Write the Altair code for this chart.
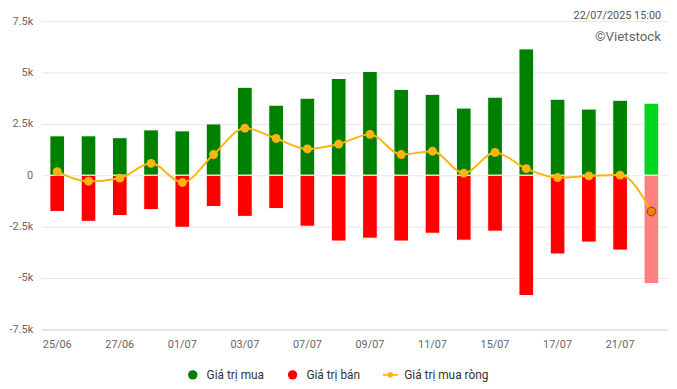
import altair as alt
import pandas as pd

dates = ["25/06", "26/06", "27/06", "30/06", "01/07", "02/07", "03/07", "04/07",
         "07/07", "08/07", "09/07", "10/07", "11/07", "14/07", "15/07", "16/07",
         "17/07", "18/07", "21/07", "22/07"]
buy = [1920, 1920, 1830, 2210, 2160, 2500, 4280, 3410, 3750, 4710,
       5050, 4180, 3940, 3270, 3800, 6150, 3700, 3220, 3650, 3510]
sell = [1760, 2240, 1960, 1670, 2530, 1520, 2000, 1620, 2480, 3200,
        3060, 3200, 2820, 3160, 2720, 5850, 3830, 3250, 3640, 5270]
net = [180, -290, -140, 580, -350, 1010, 2290, 1790, 1280, 1520,
       1990, 1010, 1170, 100, 1110, 320, -110, -30, 10, -1760]
tick_labels = ["25/06", "27/06", "01/07", "03/07", "07/07", "09/07", "11/07",
               "15/07", "17/07", "21/07"]
y_ticks = [-7500, -5000, -2500, 0, 2500, 5000, 7500]
series = ["Giá trị mua", "Giá trị bán", "Giá trị mua ròng"]
colors = ["#008000", "#ff0000", "#fdb515"]
last_day = dates[-1]

rows = []
for d, b, s in zip(dates, buy, sell):
    rows.append({"date": d, "series": series[0], "value": b})
    rows.append({"date": d, "series": series[1], "value": -s})
bars_df = pd.DataFrame(rows)
net_df = pd.DataFrame({"date": dates, "series": series[2], "value": net})

x_enc = alt.X(
    "date:N", sort=dates,
    scale=alt.Scale(paddingInner=0.53, paddingOuter=0.265),
    axis=alt.Axis(values=tick_labels, labelAngle=0, title=None, ticks=False,
                  domainColor="#ccd6eb", labelColor="#666666", labelFontSize=11,
                  labelPadding=9, grid=False),
)
y_enc = alt.Y(
    "value:Q", stack=None,
    scale=alt.Scale(domain=[-7500, 7500], nice=False, zero=True),
    axis=alt.Axis(values=y_ticks, title=None, domain=False, ticks=False,
                  gridColor="#e6e6e6", labelColor="#666666", labelFontSize=11,
                  labelPadding=9,
                  labelExpr="datum.value == 0 ? '0' : (datum.value / 1000) + 'k'"),
)

line_path = ("M-1.6,-0.2H1.6V0.2H-1.6Z "
             "M0.62,0A0.62,0.62 0 1,1 -0.62,0A0.62,0.62 0 1,1 0.62,0Z")
legend = alt.Legend(
    orient="none", legendX=147, legendY=352, direction="horizontal", title=None,
    labelFontSize=12, labelColor="#333333", labelFont="Roboto",
    symbolSize=90, columnPadding=22, labelOffset=8, symbolStrokeWidth=0,
    symbolOpacity=1,
)

color_scale = alt.Scale(domain=series, range=colors)
shape_scale = alt.Scale(domain=series, range=["circle", "circle", line_path])

bars = alt.Chart(bars_df).mark_bar(stroke="white", strokeWidth=1).encode(
    x=x_enc,
    y=y_enc,
    color=alt.Color(
        "series:N", scale=color_scale, legend=legend,
        condition=[
            {"test": f"datum.date == '{last_day}' && datum.series == '{series[0]}'", "value": "#00d620"},
            {"test": f"datum.date == '{last_day}' && datum.series == '{series[1]}'", "value": "#ff8080"},
        ],
    ),
)

line = alt.Chart(net_df).mark_line(interpolate="monotone", strokeWidth=2).encode(
    x=x_enc, y=y_enc,
    color=alt.Color("series:N", scale=color_scale, legend=legend),
)

points = alt.Chart(net_df).mark_point(filled=True, size=80, opacity=1).encode(
    x=x_enc, y=y_enc,
    color=alt.Color("series:N", scale=color_scale, legend=legend,
                    condition=[{"test": f"datum.date == '{last_day}'", "value": "#f57f0a"}]),
    shape=alt.Shape("series:N", scale=shape_scale, legend=legend,
                    condition=[{"test": "true", "value": "circle"}]),
    stroke=alt.condition(f"datum.date == '{last_day}'", alt.value("#7a4a10"), alt.value("transparent")),
    strokeWidth=alt.value(1),
)

stamp = alt.Chart(pd.DataFrame({"t": ["22/07/2025 15:00"]})).mark_text(
    align="right", baseline="middle", fontSize=11, color="#555555", font="Roboto"
).encode(x=alt.value(627), y=alt.value(-5), text="t:N")

brand = alt.Chart(pd.DataFrame({"t": ["©Vietstock"]})).mark_text(
    align="right", baseline="middle", fontSize=13.5, color="#666666", font="Roboto"
).encode(x=alt.value(627), y=alt.value(16), text="t:N")

chart = alt.layer(bars, line, points, stamp, brand).properties(
    width=633, height=312,
    autosize="none",
    padding={"left": 34, "top": 11, "right": 2, "bottom": 58},
).configure(font="Roboto").configure_view(stroke=None)

chart.save("out.html", embed_options={"renderer": "svg", "actions": False})
